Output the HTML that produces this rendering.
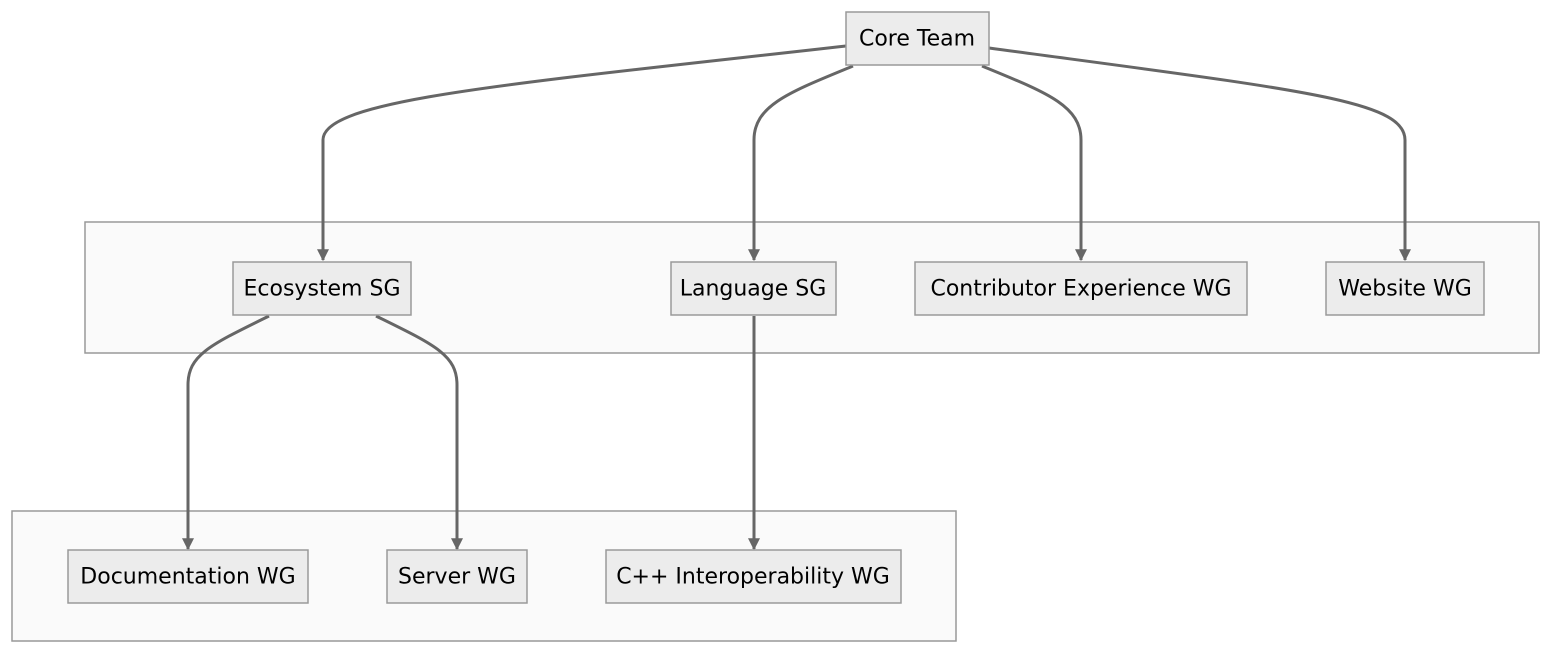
<!DOCTYPE html>
<html><head><style>
body{margin:0;background:#fff;}
svg{display:block}
text{font-family:"DejaVu Sans","Liberation Sans",sans-serif;font-size:22px;fill:#000;text-anchor:middle;dominant-baseline:central}
.n{fill:#ececec;stroke:#999;stroke-width:1.5}
.g{fill:#fafafa;stroke:#999;stroke-width:1.5}
.e{fill:none;stroke:#666;stroke-width:3}
</style></head><body>
<svg width="1568" height="662" viewBox="0 0 1568 662">
<defs><marker id="a" viewBox="0 0 10 10" refX="9" refY="5" markerWidth="4" markerHeight="4" orient="auto"><path d="M0,0L10,5L0,10z" fill="#666"/></marker></defs>
<rect class="g" x="85" y="222" width="1454" height="131"/>
<rect class="g" x="12" y="511" width="944" height="130"/>
<path class="e" marker-end="url(#a)" d="M846,46 C500,85 323,100 323,140 L323,260"/>
<path class="e" marker-end="url(#a)" d="M853,66 C790,92 754,105 754,140 L754,260"/>
<path class="e" marker-end="url(#a)" d="M982,66 C1045,92 1081,105 1081,140 L1081,260"/>
<path class="e" marker-end="url(#a)" d="M989,48 C1300,90 1405,100 1405,140 L1405,260"/>
<path class="e" marker-end="url(#a)" d="M269,316 C210,345 188,355 188,385 L188,549"/>
<path class="e" marker-end="url(#a)" d="M376,316 C435,345 457,355 457,385 L457,549"/>
<path class="e" marker-end="url(#a)" d="M754,316 L754,549"/>
<rect class="n" x="846" y="12" width="143" height="53"/><text x="917" y="39">Core Team</text>
<rect class="n" x="233" y="262" width="178" height="53"/><text x="322" y="289">Ecosystem SG</text>
<rect class="n" x="671" y="262" width="165" height="53"/><text x="753" y="289">Language SG</text>
<rect class="n" x="915" y="262" width="332" height="53"/><text x="1081" y="289">Contributor Experience WG</text>
<rect class="n" x="1326" y="262" width="158" height="53"/><text x="1405" y="289">Website WG</text>
<rect class="n" x="68" y="550" width="240" height="53"/><text x="188" y="577">Documentation WG</text>
<rect class="n" x="387" y="550" width="140" height="53"/><text x="457" y="577">Server WG</text>
<rect class="n" x="606" y="550" width="295" height="53"/><text x="753" y="577">C++ Interoperability WG</text>
</svg>
</body></html>
